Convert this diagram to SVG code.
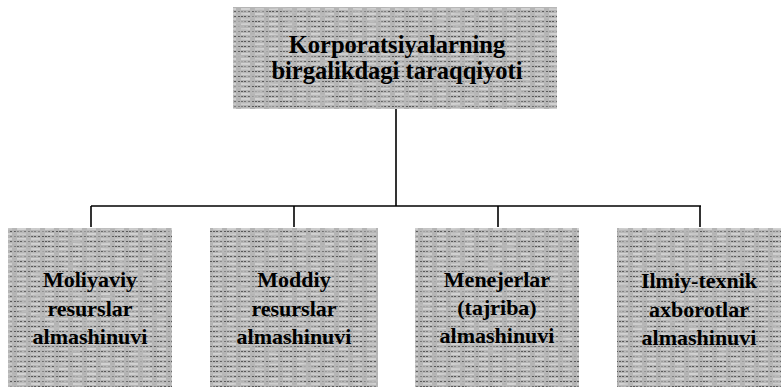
<svg xmlns="http://www.w3.org/2000/svg" width="781" height="387" viewBox="0 0 781 387">
  <defs>
    <pattern id="scan" width="14" height="5" patternUnits="userSpaceOnUse">
      <rect width="14" height="5" fill="#b4b4b4"/>
      <path d="M0 1.5H8M10 1.5H13" stroke="#5a5a5a" stroke-width="1" stroke-dasharray="2 1"/>
      <path d="M3 4H12" stroke="#f0f0f0" stroke-width="1"/>
    </pattern>
    <filter id="grain" x="0" y="0" width="1" height="1">
      <feTurbulence type="fractalNoise" baseFrequency="0.06 0.4" numOctaves="2" seed="3" result="n"/>
      <feColorMatrix in="n" type="matrix" values="0 0 0 0 0.5  0 0 0 0 0.5  0 0 0 0 0.5  0 0 0 2.2 -0.9" result="g"/>
      <feComposite in="g" in2="SourceGraphic" operator="in" result="gm"/>
      <feMerge><feMergeNode in="SourceGraphic"/><feMergeNode in="gm"/></feMerge>
    </filter>
  </defs>
  <style>
    .box { fill: url(#scan); filter: url(#grain); }
    .t { font-family: "Liberation Serif", "Times New Roman", Tinos, serif; font-weight: bold; fill: #000; text-anchor: middle; }
    .top { font-size: 24.5px; }
    .sub { font-size: 22px; }
    .conn { stroke: #000; stroke-width: 1.6; fill: none; }
  </style>

  <g id="connectors">
    <path class="conn" d="M396 109V206"/>
    <path class="conn" d="M91 206H701"/>
    <path class="conn" d="M91 206V227"/>
    <path class="conn" d="M294 206V227"/>
    <path class="conn" d="M498 206V227"/>
    <path class="conn" d="M700 206V227"/>
  </g>

  <g id="node-top">
    <rect class="box" x="233" y="7" width="324" height="102"/>
    <text class="t top" x="397" y="53" font-family="Liberation Serif, serif">Korporatsiyalarning</text>
    <text class="t top" x="397" y="79" font-family="Liberation Serif, serif">birgalikdagi taraqqiyoti</text>
  </g>

  <g id="node-moliyaviy">
    <rect class="box" x="8" y="228" width="164" height="159"/>
    <text class="t sub" x="90" y="287">Moliyaviy</text>
    <text class="t sub" x="90" y="316">resurslar</text>
    <text class="t sub" x="90" y="344">almashinuvi</text>
  </g>

  <g id="node-moddiy">
    <rect class="box" x="210" y="228" width="168" height="159"/>
    <text class="t sub" x="294" y="287">Moddiy</text>
    <text class="t sub" x="294" y="316">resurslar</text>
    <text class="t sub" x="294" y="344">almashinuvi</text>
  </g>

  <g id="node-menejerlar">
    <rect class="box" x="415" y="228" width="164" height="159"/>
    <text class="t sub" x="497" y="287">Menejerlar</text>
    <text class="t sub" x="497" y="315">(tajriba)</text>
    <text class="t sub" x="497" y="343">almashinuvi</text>
  </g>

  <g id="node-ilmiy">
    <rect class="box" x="617" y="228" width="164" height="159"/>
    <text class="t sub" x="699" y="288">Ilmiy-texnik</text>
    <text class="t sub" x="699" y="317">axborotlar</text>
    <text class="t sub" x="699" y="345">almashinuvi</text>
  </g>
</svg>
